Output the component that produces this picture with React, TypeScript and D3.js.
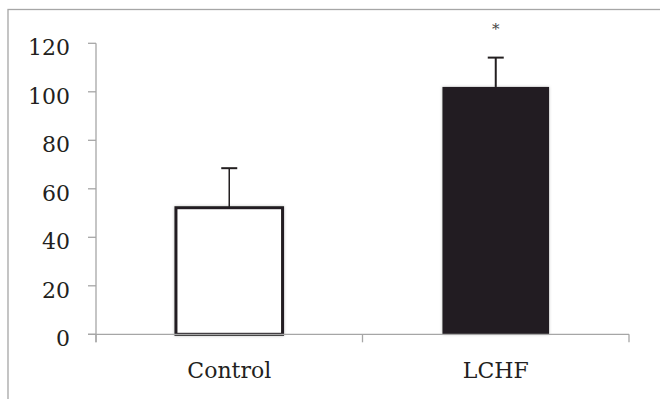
import React from "react";
import * as d3 from "d3";

const categories = ["Control", "LCHF"];
const means = [52.2, 102];
const sems = [16.3, 12.1];
const yTicks = [0, 20, 40, 60, 80, 100, 120];
const significance = ["", "*"];

const W = 660;
const H = 399;
const INK = "#231f20";
const AXIS = "#a6a6a6";
const FONT = "'DejaVu Serif', serif";

export default function App() {
  const x = d3
    .scaleBand<string>()
    .domain(categories)
    .range([96, 629])
    .paddingInner(0.6)
    .paddingOuter(0.3);
  const y = d3.scaleLinear().domain([0, 120]).range([334.3, 43.3]);
  const step = x.step();
  const bw = x.bandwidth();
  const x0 = 96;
  const x1 = 629;
  const boundaries = [x0, x0 + step, x1];

  return (
    <svg
      width={W}
      height={H}
      style={{ position: "absolute", left: 0, top: 0, display: "block", background: "#fff" }}
    >
      <defs>
        <filter id="sh" x="-10%" y="-10%" width="120%" height="120%">
          <feDropShadow dx="0" dy="0" stdDeviation="1.4" floodColor="#000" floodOpacity="0.25" />
        </filter>
      </defs>
      {/* outer frame (cropped) */}
      <rect x={8} y={9.5} width={720} height={460} fill="none" stroke={AXIS} strokeWidth={1.3} />

      {/* y axis */}
      <line x1={x0} x2={x0} y1={y(120)} y2={y(0) + 8} stroke={AXIS} strokeWidth={1.3} />
      {yTicks.map((t) => (
        <g key={t}>
          <line x1={x0 - 8} x2={x0} y1={y(t)} y2={y(t)} stroke={AXIS} strokeWidth={1.3} />
          <text
            x={70}
            y={y(t) + 11.7}
            textAnchor="end"
            fontFamily={FONT}
            fontSize={22}
            fill={INK}
          >
            {t}
          </text>
        </g>
      ))}

      {/* bars */}
      {categories.map((c, i) => {
        const bx = x(c) as number;
        const top = y(means[i]);
        const cx = bx + bw / 2;
        const et = y(means[i] + sems[i]);
        const lw = i === 0 ? 1.5 : 2;
        return (
          <g key={c}>
            <line x1={cx} x2={cx} y1={top} y2={et} stroke={INK} strokeWidth={lw} />
            <line x1={cx - 8} x2={cx + 8} y1={et} y2={et} stroke={INK} strokeWidth={2} />
            {i === 0 ? (
              <rect
                x={bx}
                y={top}
                width={bw}
                height={y(0) - top}
                fill="#fff"
                stroke={INK}
                strokeWidth={3}
                filter="url(#sh)"
              />
            ) : (
              <rect
                x={bx}
                y={top}
                width={bw}
                height={y(0) - top}
                fill={INK}
                filter="url(#sh)"
              />
            )}
            {significance[i] && (
              <text
                x={cx}
                y={34}
                textAnchor="middle"
                fontFamily={FONT}
                fontSize={15}
                fill="#444"
              >
                {significance[i]}
              </text>
            )}
            <text
              x={cx}
              y={378}
              textAnchor="middle"
              fontFamily={FONT}
              fontSize={22}
              fill={INK}
            >
              {c}
            </text>
          </g>
        );
      })}

      {/* x axis */}
      <line x1={x0 - 8} x2={x1} y1={y(0)} y2={y(0)} stroke={AXIS} strokeWidth={1.3} />
      {boundaries.map((b, i) => (
        <line key={i} x1={b} x2={b} y1={y(0)} y2={y(0) + 8} stroke={AXIS} strokeWidth={1.3} />
      ))}
    </svg>
  );
}
